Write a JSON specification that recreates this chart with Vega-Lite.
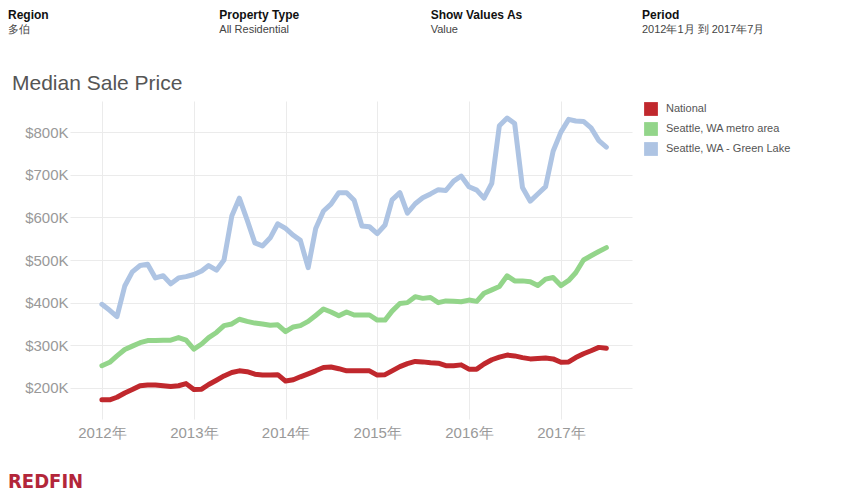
{
  "$schema": "https://vega.github.io/schema/vega-lite/v6.json",
  "padding": 0,
  "background": "white",
  "spacing": 0,
  "config": {"view": {"stroke": null}, "font": "Liberation Sans"},
  "title": {"text": "REDFIN", "orient": "bottom", "anchor": "start", "frame": "bounds", "color": "#b3263a", "font": "DejaVu Sans Condensed, DejaVu Sans, sans-serif", "fontWeight": "bold", "fontSize": 20, "offset": 32, "dx": 8},
  "vconcat": [
    {
      "width": 849,
      "height": 73,
      "data": {"values": [
        {"col": 0, "kind": "label", "text": "Region"},
        {"col": 0, "kind": "value", "text": "多伯"},
        {"col": 1, "kind": "label", "text": "Property Type"},
        {"col": 1, "kind": "value", "text": "All Residential"},
        {"col": 2, "kind": "label", "text": "Show Values As"},
        {"col": 2, "kind": "value", "text": "Value"},
        {"col": 3, "kind": "label", "text": "Period"},
        {"col": 3, "kind": "value", "text": " 2012年1月 到 2017年7月"}
      ]},
      "encoding": {
        "x": {"field": "col", "type": "quantitative", "scale": {"domain": [0, 3], "range": [-62, 572]}, "axis": null},
        "y": {"field": "kind", "type": "nominal", "scale": {"type": "point", "padding": 0, "domain": ["label", "value"], "range": [19, 33]}, "axis": null},
        "text": {"field": "text"}
      },
      "layer": [
        {"transform": [{"filter": "datum.kind === 'label'"}], "mark": {"type": "text", "align": "left", "baseline": "alphabetic", "fontWeight": "bold", "fontSize": 12, "color": "#111"}},
        {"transform": [{"filter": "datum.kind === 'value'"}], "mark": {"type": "text", "align": "left", "baseline": "alphabetic", "fontSize": 11, "color": "#444"}}
      ]
    },
    {
      "width": 562,
      "height": 318,
      "title": {"text": "Median Sale Price", "anchor": "start", "frame": "group", "dx": -58, "fontSize": 21, "fontWeight": "normal", "color": "#555", "offset": 7},
      "data": {"values": [
        {"date": "2012-01-01", "region": "National", "price": 172000},
        {"date": "2012-02-01", "region": "National", "price": 172000},
        {"date": "2012-03-01", "region": "National", "price": 178000},
        {"date": "2012-04-01", "region": "National", "price": 188000},
        {"date": "2012-05-01", "region": "National", "price": 196000},
        {"date": "2012-06-01", "region": "National", "price": 205000},
        {"date": "2012-07-01", "region": "National", "price": 207000},
        {"date": "2012-08-01", "region": "National", "price": 207000},
        {"date": "2012-09-01", "region": "National", "price": 205000},
        {"date": "2012-10-01", "region": "National", "price": 203000},
        {"date": "2012-11-01", "region": "National", "price": 205000},
        {"date": "2012-12-01", "region": "National", "price": 210000},
        {"date": "2013-01-01", "region": "National", "price": 196000},
        {"date": "2013-02-01", "region": "National", "price": 197000},
        {"date": "2013-03-01", "region": "National", "price": 208000},
        {"date": "2013-04-01", "region": "National", "price": 218000},
        {"date": "2013-05-01", "region": "National", "price": 228000},
        {"date": "2013-06-01", "region": "National", "price": 236000},
        {"date": "2013-07-01", "region": "National", "price": 240000},
        {"date": "2013-08-01", "region": "National", "price": 238000},
        {"date": "2013-09-01", "region": "National", "price": 232000},
        {"date": "2013-10-01", "region": "National", "price": 230000},
        {"date": "2013-11-01", "region": "National", "price": 230000},
        {"date": "2013-12-01", "region": "National", "price": 231000},
        {"date": "2014-01-01", "region": "National", "price": 216000},
        {"date": "2014-02-01", "region": "National", "price": 219000},
        {"date": "2014-03-01", "region": "National", "price": 226000},
        {"date": "2014-04-01", "region": "National", "price": 233000},
        {"date": "2014-05-01", "region": "National", "price": 240000},
        {"date": "2014-06-01", "region": "National", "price": 248000},
        {"date": "2014-07-01", "region": "National", "price": 249000},
        {"date": "2014-08-01", "region": "National", "price": 245000},
        {"date": "2014-09-01", "region": "National", "price": 240000},
        {"date": "2014-10-01", "region": "National", "price": 240000},
        {"date": "2014-11-01", "region": "National", "price": 240000},
        {"date": "2014-12-01", "region": "National", "price": 240000},
        {"date": "2015-01-01", "region": "National", "price": 230000},
        {"date": "2015-02-01", "region": "National", "price": 231000},
        {"date": "2015-03-01", "region": "National", "price": 240000},
        {"date": "2015-04-01", "region": "National", "price": 250000},
        {"date": "2015-05-01", "region": "National", "price": 257000},
        {"date": "2015-06-01", "region": "National", "price": 262000},
        {"date": "2015-07-01", "region": "National", "price": 261000},
        {"date": "2015-08-01", "region": "National", "price": 259000},
        {"date": "2015-09-01", "region": "National", "price": 258000},
        {"date": "2015-10-01", "region": "National", "price": 252000},
        {"date": "2015-11-01", "region": "National", "price": 252000},
        {"date": "2015-12-01", "region": "National", "price": 254000},
        {"date": "2016-01-01", "region": "National", "price": 244000},
        {"date": "2016-02-01", "region": "National", "price": 244000},
        {"date": "2016-03-01", "region": "National", "price": 256000},
        {"date": "2016-04-01", "region": "National", "price": 266000},
        {"date": "2016-05-01", "region": "National", "price": 272000},
        {"date": "2016-06-01", "region": "National", "price": 277000},
        {"date": "2016-07-01", "region": "National", "price": 275000},
        {"date": "2016-08-01", "region": "National", "price": 271000},
        {"date": "2016-09-01", "region": "National", "price": 268000},
        {"date": "2016-10-01", "region": "National", "price": 269000},
        {"date": "2016-11-01", "region": "National", "price": 270000},
        {"date": "2016-12-01", "region": "National", "price": 268000},
        {"date": "2017-01-01", "region": "National", "price": 260000},
        {"date": "2017-02-01", "region": "National", "price": 261000},
        {"date": "2017-03-01", "region": "National", "price": 271000},
        {"date": "2017-04-01", "region": "National", "price": 280000},
        {"date": "2017-05-01", "region": "National", "price": 287000},
        {"date": "2017-06-01", "region": "National", "price": 295000},
        {"date": "2017-07-01", "region": "National", "price": 293000},
        {"date": "2012-01-01", "region": "Seattle, WA metro area", "price": 252000},
        {"date": "2012-02-01", "region": "Seattle, WA metro area", "price": 260000},
        {"date": "2012-03-01", "region": "Seattle, WA metro area", "price": 275000},
        {"date": "2012-04-01", "region": "Seattle, WA metro area", "price": 290000},
        {"date": "2012-05-01", "region": "Seattle, WA metro area", "price": 298000},
        {"date": "2012-06-01", "region": "Seattle, WA metro area", "price": 306000},
        {"date": "2012-07-01", "region": "Seattle, WA metro area", "price": 311000},
        {"date": "2012-08-01", "region": "Seattle, WA metro area", "price": 311000},
        {"date": "2012-09-01", "region": "Seattle, WA metro area", "price": 312000},
        {"date": "2012-10-01", "region": "Seattle, WA metro area", "price": 312000},
        {"date": "2012-11-01", "region": "Seattle, WA metro area", "price": 318000},
        {"date": "2012-12-01", "region": "Seattle, WA metro area", "price": 312000},
        {"date": "2013-01-01", "region": "Seattle, WA metro area", "price": 291000},
        {"date": "2013-02-01", "region": "Seattle, WA metro area", "price": 303000},
        {"date": "2013-03-01", "region": "Seattle, WA metro area", "price": 318000},
        {"date": "2013-04-01", "region": "Seattle, WA metro area", "price": 330000},
        {"date": "2013-05-01", "region": "Seattle, WA metro area", "price": 346000},
        {"date": "2013-06-01", "region": "Seattle, WA metro area", "price": 350000},
        {"date": "2013-07-01", "region": "Seattle, WA metro area", "price": 361000},
        {"date": "2013-08-01", "region": "Seattle, WA metro area", "price": 356000},
        {"date": "2013-09-01", "region": "Seattle, WA metro area", "price": 352000},
        {"date": "2013-10-01", "region": "Seattle, WA metro area", "price": 350000},
        {"date": "2013-11-01", "region": "Seattle, WA metro area", "price": 347000},
        {"date": "2013-12-01", "region": "Seattle, WA metro area", "price": 348000},
        {"date": "2014-01-01", "region": "Seattle, WA metro area", "price": 332000},
        {"date": "2014-02-01", "region": "Seattle, WA metro area", "price": 343000},
        {"date": "2014-03-01", "region": "Seattle, WA metro area", "price": 346000},
        {"date": "2014-04-01", "region": "Seattle, WA metro area", "price": 356000},
        {"date": "2014-05-01", "region": "Seattle, WA metro area", "price": 370000},
        {"date": "2014-06-01", "region": "Seattle, WA metro area", "price": 385000},
        {"date": "2014-07-01", "region": "Seattle, WA metro area", "price": 378000},
        {"date": "2014-08-01", "region": "Seattle, WA metro area", "price": 369000},
        {"date": "2014-09-01", "region": "Seattle, WA metro area", "price": 378000},
        {"date": "2014-10-01", "region": "Seattle, WA metro area", "price": 371000},
        {"date": "2014-11-01", "region": "Seattle, WA metro area", "price": 371000},
        {"date": "2014-12-01", "region": "Seattle, WA metro area", "price": 371000},
        {"date": "2015-01-01", "region": "Seattle, WA metro area", "price": 359000},
        {"date": "2015-02-01", "region": "Seattle, WA metro area", "price": 359000},
        {"date": "2015-03-01", "region": "Seattle, WA metro area", "price": 380000},
        {"date": "2015-04-01", "region": "Seattle, WA metro area", "price": 398000},
        {"date": "2015-05-01", "region": "Seattle, WA metro area", "price": 400000},
        {"date": "2015-06-01", "region": "Seattle, WA metro area", "price": 414000},
        {"date": "2015-07-01", "region": "Seattle, WA metro area", "price": 410000},
        {"date": "2015-08-01", "region": "Seattle, WA metro area", "price": 412000},
        {"date": "2015-09-01", "region": "Seattle, WA metro area", "price": 400000},
        {"date": "2015-10-01", "region": "Seattle, WA metro area", "price": 404000},
        {"date": "2015-11-01", "region": "Seattle, WA metro area", "price": 403000},
        {"date": "2015-12-01", "region": "Seattle, WA metro area", "price": 402000},
        {"date": "2016-01-01", "region": "Seattle, WA metro area", "price": 406000},
        {"date": "2016-02-01", "region": "Seattle, WA metro area", "price": 403000},
        {"date": "2016-03-01", "region": "Seattle, WA metro area", "price": 422000},
        {"date": "2016-04-01", "region": "Seattle, WA metro area", "price": 430000},
        {"date": "2016-05-01", "region": "Seattle, WA metro area", "price": 438000},
        {"date": "2016-06-01", "region": "Seattle, WA metro area", "price": 463000},
        {"date": "2016-07-01", "region": "Seattle, WA metro area", "price": 451000},
        {"date": "2016-08-01", "region": "Seattle, WA metro area", "price": 451000},
        {"date": "2016-09-01", "region": "Seattle, WA metro area", "price": 449000},
        {"date": "2016-10-01", "region": "Seattle, WA metro area", "price": 440000},
        {"date": "2016-11-01", "region": "Seattle, WA metro area", "price": 455000},
        {"date": "2016-12-01", "region": "Seattle, WA metro area", "price": 459000},
        {"date": "2017-01-01", "region": "Seattle, WA metro area", "price": 440000},
        {"date": "2017-02-01", "region": "Seattle, WA metro area", "price": 452000},
        {"date": "2017-03-01", "region": "Seattle, WA metro area", "price": 470000},
        {"date": "2017-04-01", "region": "Seattle, WA metro area", "price": 500000},
        {"date": "2017-05-01", "region": "Seattle, WA metro area", "price": 510000},
        {"date": "2017-06-01", "region": "Seattle, WA metro area", "price": 520000},
        {"date": "2017-07-01", "region": "Seattle, WA metro area", "price": 529000},
        {"date": "2012-01-01", "region": "Seattle, WA - Green Lake", "price": 396000},
        {"date": "2012-02-01", "region": "Seattle, WA - Green Lake", "price": 382000},
        {"date": "2012-03-01", "region": "Seattle, WA - Green Lake", "price": 367000},
        {"date": "2012-04-01", "region": "Seattle, WA - Green Lake", "price": 439000},
        {"date": "2012-05-01", "region": "Seattle, WA - Green Lake", "price": 472000},
        {"date": "2012-06-01", "region": "Seattle, WA - Green Lake", "price": 487000},
        {"date": "2012-07-01", "region": "Seattle, WA - Green Lake", "price": 490000},
        {"date": "2012-08-01", "region": "Seattle, WA - Green Lake", "price": 458000},
        {"date": "2012-09-01", "region": "Seattle, WA - Green Lake", "price": 463000},
        {"date": "2012-10-01", "region": "Seattle, WA - Green Lake", "price": 444000},
        {"date": "2012-11-01", "region": "Seattle, WA - Green Lake", "price": 458000},
        {"date": "2012-12-01", "region": "Seattle, WA - Green Lake", "price": 461000},
        {"date": "2013-01-01", "region": "Seattle, WA - Green Lake", "price": 466000},
        {"date": "2013-02-01", "region": "Seattle, WA - Green Lake", "price": 474000},
        {"date": "2013-03-01", "region": "Seattle, WA - Green Lake", "price": 487000},
        {"date": "2013-04-01", "region": "Seattle, WA - Green Lake", "price": 476000},
        {"date": "2013-05-01", "region": "Seattle, WA - Green Lake", "price": 500000},
        {"date": "2013-06-01", "region": "Seattle, WA - Green Lake", "price": 603000},
        {"date": "2013-07-01", "region": "Seattle, WA - Green Lake", "price": 645000},
        {"date": "2013-08-01", "region": "Seattle, WA - Green Lake", "price": 594000},
        {"date": "2013-09-01", "region": "Seattle, WA - Green Lake", "price": 540000},
        {"date": "2013-10-01", "region": "Seattle, WA - Green Lake", "price": 533000},
        {"date": "2013-11-01", "region": "Seattle, WA - Green Lake", "price": 552000},
        {"date": "2013-12-01", "region": "Seattle, WA - Green Lake", "price": 585000},
        {"date": "2014-01-01", "region": "Seattle, WA - Green Lake", "price": 574000},
        {"date": "2014-02-01", "region": "Seattle, WA - Green Lake", "price": 558000},
        {"date": "2014-03-01", "region": "Seattle, WA - Green Lake", "price": 546000},
        {"date": "2014-04-01", "region": "Seattle, WA - Green Lake", "price": 482000},
        {"date": "2014-05-01", "region": "Seattle, WA - Green Lake", "price": 574000},
        {"date": "2014-06-01", "region": "Seattle, WA - Green Lake", "price": 615000},
        {"date": "2014-07-01", "region": "Seattle, WA - Green Lake", "price": 631000},
        {"date": "2014-08-01", "region": "Seattle, WA - Green Lake", "price": 658000},
        {"date": "2014-09-01", "region": "Seattle, WA - Green Lake", "price": 658000},
        {"date": "2014-10-01", "region": "Seattle, WA - Green Lake", "price": 640000},
        {"date": "2014-11-01", "region": "Seattle, WA - Green Lake", "price": 580000},
        {"date": "2014-12-01", "region": "Seattle, WA - Green Lake", "price": 578000},
        {"date": "2015-01-01", "region": "Seattle, WA - Green Lake", "price": 562000},
        {"date": "2015-02-01", "region": "Seattle, WA - Green Lake", "price": 582000},
        {"date": "2015-03-01", "region": "Seattle, WA - Green Lake", "price": 641000},
        {"date": "2015-04-01", "region": "Seattle, WA - Green Lake", "price": 658000},
        {"date": "2015-05-01", "region": "Seattle, WA - Green Lake", "price": 610000},
        {"date": "2015-06-01", "region": "Seattle, WA - Green Lake", "price": 632000},
        {"date": "2015-07-01", "region": "Seattle, WA - Green Lake", "price": 646000},
        {"date": "2015-08-01", "region": "Seattle, WA - Green Lake", "price": 655000},
        {"date": "2015-09-01", "region": "Seattle, WA - Green Lake", "price": 665000},
        {"date": "2015-10-01", "region": "Seattle, WA - Green Lake", "price": 663000},
        {"date": "2015-11-01", "region": "Seattle, WA - Green Lake", "price": 685000},
        {"date": "2015-12-01", "region": "Seattle, WA - Green Lake", "price": 697000},
        {"date": "2016-01-01", "region": "Seattle, WA - Green Lake", "price": 672000},
        {"date": "2016-02-01", "region": "Seattle, WA - Green Lake", "price": 664000},
        {"date": "2016-03-01", "region": "Seattle, WA - Green Lake", "price": 645000},
        {"date": "2016-04-01", "region": "Seattle, WA - Green Lake", "price": 680000},
        {"date": "2016-05-01", "region": "Seattle, WA - Green Lake", "price": 815000},
        {"date": "2016-06-01", "region": "Seattle, WA - Green Lake", "price": 833000},
        {"date": "2016-07-01", "region": "Seattle, WA - Green Lake", "price": 820000},
        {"date": "2016-08-01", "region": "Seattle, WA - Green Lake", "price": 670000},
        {"date": "2016-09-01", "region": "Seattle, WA - Green Lake", "price": 638000},
        {"date": "2016-10-01", "region": "Seattle, WA - Green Lake", "price": 655000},
        {"date": "2016-11-01", "region": "Seattle, WA - Green Lake", "price": 672000},
        {"date": "2016-12-01", "region": "Seattle, WA - Green Lake", "price": 755000},
        {"date": "2017-01-01", "region": "Seattle, WA - Green Lake", "price": 800000},
        {"date": "2017-02-01", "region": "Seattle, WA - Green Lake", "price": 830000},
        {"date": "2017-03-01", "region": "Seattle, WA - Green Lake", "price": 826000},
        {"date": "2017-04-01", "region": "Seattle, WA - Green Lake", "price": 825000},
        {"date": "2017-05-01", "region": "Seattle, WA - Green Lake", "price": 810000},
        {"date": "2017-06-01", "region": "Seattle, WA - Green Lake", "price": 780000},
        {"date": "2017-07-01", "region": "Seattle, WA - Green Lake", "price": 765000}
      ]},
      "mark": {"type": "line", "strokeWidth": 5, "strokeCap": "round", "strokeJoin": "round"},
      "encoding": {
        "x": {
          "field": "date", "type": "temporal",
          "scale": {"type": "utc", "domain": [{"year": 2011, "month": 8, "date": 27, "utc": true}, {"year": 2017, "month": 10, "date": 11, "utc": true}]},
          "axis": {
            "title": null,
            "values": [{"year": 2012, "utc": true}, {"year": 2013, "utc": true}, {"year": 2014, "utc": true}, {"year": 2015, "utc": true}, {"year": 2016, "utc": true}, {"year": 2017, "utc": true}],
            "labelExpr": "utcFormat(datum.value, '%Y') + '年'",
            "domain": false, "ticks": false,
            "labelFontSize": 15, "labelColor": "#999", "labelPadding": 6, "labelFlush": false,
            "grid": true, "gridColor": "#ebebeb"
          }
        },
        "y": {
          "field": "price", "type": "quantitative",
          "scale": {"domain": [127000, 873000], "nice": false, "zero": false},
          "axis": {
            "title": null,
            "values": [200000, 300000, 400000, 500000, 600000, 700000, 800000],
            "labelExpr": "'$' + (datum.value / 1000) + 'K'",
            "domain": false, "ticks": false,
            "labelFontSize": 15, "labelColor": "#999", "labelPadding": 2,
            "grid": true, "gridColor": "#ebebeb", "minExtent": 70
          }
        },
        "color": {
          "field": "region", "type": "nominal",
          "scale": {"domain": ["National", "Seattle, WA metro area", "Seattle, WA - Green Lake"], "range": ["#c0282d", "#93d58a", "#aec4e3"]},
          "legend": {
            "title": null, "orient": "none", "legendX": 574, "legendY": 102,
            "symbolType": "square", "symbolSize": 190, "symbolStrokeWidth": 0,
            "labelFontSize": 11, "labelColor": "#555", "rowPadding": 6, "labelOffset": 8,
            "encode": {"symbols": {"update": {"fill": {"scale": "color", "field": "value"}, "fillOpacity": {"value": 1}}}}
          }
        }
      }
    }
  ]
}
